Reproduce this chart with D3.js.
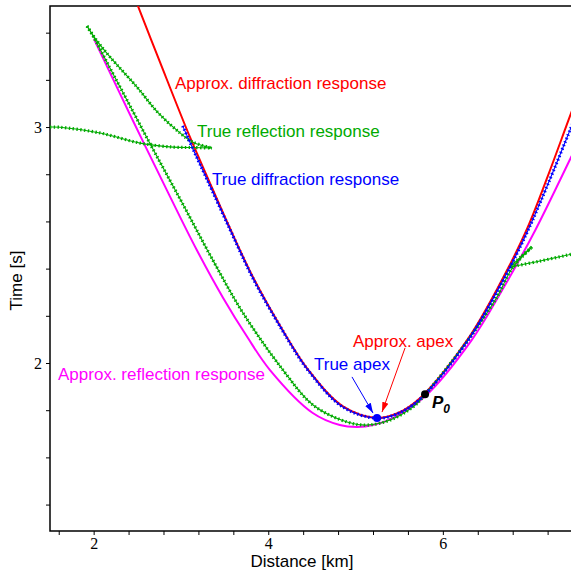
<!DOCTYPE html>
<html>
<head>
<meta charset="utf-8">
<script src="https://cdn.jsdelivr.net/npm/d3@7"></script>
<style>
  body { margin: 0; background: #fff; }
  svg { display: block; }
  .tick text { font-family: "Liberation Serif", "Times New Roman", serif; font-size: 16px; fill: #000; }
  .ann { font-family: "Liberation Sans", Arial, sans-serif; font-size: 17px; }
</style>
</head>
<body>
<div id="chart"></div>
<script>

// distance [km], time [s]
const approxDiffraction = [
    [2.50, 3.52], [2.76, 3.275], [3.10, 2.96], [3.30, 2.79], [3.56, 2.572],
    [3.83, 2.36], [4.14, 2.155], [4.46, 1.97], [4.86, 1.815], [5.25, 1.767],
    [5.48, 1.787], [5.74, 1.852], [6.28, 2.098], [6.66, 2.34], [6.96, 2.565],
    [7.20, 2.79], [7.42, 3.01], [7.52, 3.11]
]

const trueDiffraction = [
    [3.02, 3.005], [3.14, 2.905], [3.30, 2.777], [3.56, 2.567], [3.83, 2.355],
    [4.14, 2.152], [4.46, 1.967], [4.86, 1.812], [5.25, 1.766], [5.48, 1.785],
    [5.74, 1.848], [6.28, 2.092], [6.66, 2.33], [6.96, 2.55], [7.20, 2.755],
    [7.46, 2.99], [7.52, 3.045]
]

const approxReflection = [
    [2.004, 3.373], [2.42, 3.05], [2.875, 2.705], [3.18, 2.48], [3.48, 2.278],
    [3.76, 2.11], [4.02, 1.97], [4.51, 1.788], [4.82, 1.737], [5.02, 1.729],
    [5.20, 1.737], [5.45, 1.771], [5.80, 1.86], [6.33, 2.097], [6.68, 2.309],
    [7.06, 2.564], [7.47, 2.873], [7.52, 2.91]
]

// true reflection: the branches of the triplications
const reflMain = [
    [1.924, 3.428], [1.993, 3.386], [2.187, 3.25], [2.382, 3.114], [2.645, 2.93],
    [3.012, 2.68], [3.367, 2.435], [3.711, 2.212], [4.169, 1.97], [4.513, 1.822],
    [4.902, 1.75], [5.131, 1.737], [5.395, 1.758], [5.658, 1.814], [5.796, 1.866],
    [6.288, 2.097], [6.62, 2.28], [6.792, 2.40], [7.021, 2.492]
]
const reflUpper = [
    [1.924, 3.428], [2.038, 3.365], [2.187, 3.297], [2.497, 3.169], [2.74, 3.06],
    [2.989, 2.975], [3.138, 2.936], [3.356, 2.911]
]
const reflLeft = [
    [1.50, 3.00], [1.615, 2.999], [2.073, 2.975], [2.531, 2.932], [2.909, 2.915],
    [3.138, 2.913], [3.356, 2.911]
]
const reflBack = [[7.021, 2.492], [6.90, 2.452], [6.769, 2.407]]
const reflRight = [[6.769, 2.407], [7.113, 2.432], [7.52, 2.465]]

const trueApex = [5.246, 1.767]
const pointP0 = [5.796, 1.868]

const xTicks = [1.6, 2, 2.4, 2.8, 3.2, 3.6, 4, 4.4, 4.8, 5.2, 5.6, 6, 6.4, 6.8, 7.2]
const xTickLabels = [2, 4, 6]
const yTicks = [1.4, 1.6, 1.8, 2, 2.2, 2.4, 2.6, 2.8, 3, 3.2, 3.4]
const yTickLabels = [2, 3]

const width = 571;
const height = 571;
const margin = ({top: 6, left: 50, bottom: 531, right: 573.8})

const red = '#ff0000', blue = '#0000ff', magenta = '#ff00ff', green = '#00aa00';

const x = d3.scaleLinear()
    .domain([1.5, 7.5])
    .range([margin.left, margin.right])

const y = d3.scaleLinear()
    .domain([1.288, 3.513])
    .range([margin.bottom, margin.top])

const line = d3.line()
    .x(d => x(d[0]))
    .y(d => y(d[1]))
    .curve(d3.curveCatmullRom.alpha(0.5))

const svg = d3.select("#chart").append("svg")
    .attr("width", width)
    .attr("height", height)

const defs = svg.append("defs")
defs.append("clipPath").attr("id", "plot")
    .append("rect")
    .attr("x", margin.left).attr("y", margin.top)
    .attr("width", margin.right - margin.left)
    .attr("height", margin.bottom - margin.top)

for (const [id, c] of [["arrowRed", red], ["arrowBlue", blue]]) {
    defs.append("marker")
        .attr("id", id)
        .attr("viewBox", "0 -4 10 8")
        .attr("refX", 10).attr("refY", 0)
        .attr("markerUnits", "userSpaceOnUse")
        .attr("markerWidth", 10).attr("markerHeight", 8)
        .attr("orient", "auto")
      .append("path")
        .attr("d", "M0,-3.2L10,0L0,3.2Z")
        .attr("fill", c)
}

// axes
const xAxis = g => g
    .attr("transform", `translate(0,${margin.bottom})`)
    .call(d3.axisBottom(x).tickValues(xTicks).tickSize(4).tickPadding(3)
        .tickFormat(d => xTickLabels.includes(d) ? d : ""))
    .call(g => g.select(".domain").remove())

const yAxis = g => g
    .attr("transform", `translate(${margin.left},0)`)
    .call(d3.axisLeft(y).tickValues(yTicks).tickSize(4).tickPadding(4)
        .tickFormat(d => yTickLabels.includes(d) ? d : ""))
    .call(g => g.select(".domain").remove())

svg.append("g").call(xAxis)
svg.append("g").call(yAxis)

svg.append("path")
    .attr("d", `M${margin.right},${margin.top}H${margin.left}V${margin.bottom}H${margin.right}`)
    .attr("fill", "none")
    .attr("stroke", "#000")
    .attr("stroke-width", 1.5)

svg.append("text")
    .attr("class", "ann")
    .attr("x", (margin.left + margin.right) / 2 - 10)
    .attr("y", 567)
    .attr("text-anchor", "middle")
    .attr("font-size", 16)
    .text("Distance [km]")

svg.append("text")
    .attr("class", "ann")
    .attr("transform", `translate(22,${(margin.top + margin.bottom) / 2 + 12}) rotate(-90)`)
    .attr("text-anchor", "middle")
    .attr("font-size", 16)
    .text("Time [s]")

// curves
const plot = svg.append("g").attr("clip-path", "url(#plot)")

const solid = (data, color) => plot.append("path")
    .attr("d", line(data))
    .attr("fill", "none")
    .attr("stroke", color)
    .attr("stroke-width", 2)

const dotted = (data, color) => {
    plot.append("path")
        .attr("d", line(data))
        .attr("fill", "none")
        .attr("stroke", color)
        .attr("stroke-width", 1.1)
    plot.append("path")
        .attr("d", line(data))
        .attr("fill", "none")
        .attr("stroke", color)
        .attr("stroke-width", 3.2)
        .attr("stroke-dasharray", "1.4 2.4")
}

solid(approxReflection, magenta)
solid(approxDiffraction, red)
dotted(reflMain, green)
dotted(reflUpper, green)
dotted(reflLeft, green)
dotted(reflBack, green)
dotted(reflRight, green)
dotted(trueDiffraction, blue)

// annotations
const label = (text, px, py, color) => svg.append("text")
    .attr("class", "ann")
    .attr("x", x(px)).attr("y", y(py))
    .attr("fill", color)
    .text(text)

label("Approx. diffraction response", 2.932, 3.161, red)
label("True reflection response", 3.184, 2.958, green)
label("True diffraction response", 3.356, 2.754, blue)
label("Approx. reflection response", 1.592, 1.928, magenta)
label("Approx. apex", 4.971, 2.068, red)
label("True apex", 4.524, 1.970, blue)

svg.append("line")
    .attr("x1", x(4.959)).attr("y1", y(1.941))
    .attr("x2", x(5.200)).attr("y2", y(1.788))
    .attr("stroke", blue).attr("stroke-width", 1)
    .attr("marker-end", "url(#arrowBlue)")

svg.append("line")
    .attr("x1", x(5.567)).attr("y1", y(2.064))
    .attr("x2", x(5.303)).attr("y2", y(1.792))
    .attr("stroke", red).attr("stroke-width", 1)
    .attr("marker-end", "url(#arrowRed)")

svg.append("circle")
    .attr("cx", x(trueApex[0])).attr("cy", y(trueApex[1]))
    .attr("r", 4).attr("fill", blue)

svg.append("circle")
    .attr("cx", x(pointP0[0])).attr("cy", y(pointP0[1]))
    .attr("r", 4).attr("fill", "#000")

const p0 = svg.append("text")
    .attr("class", "ann")
    .attr("x", x(5.876)).attr("y", y(1.809))
    .attr("font-weight", "bold")
    .attr("font-style", "italic")
p0.append("tspan").text("P")
p0.append("tspan").attr("dy", 5).attr("font-size", 12).text("0")

</script>
</body>
</html>
